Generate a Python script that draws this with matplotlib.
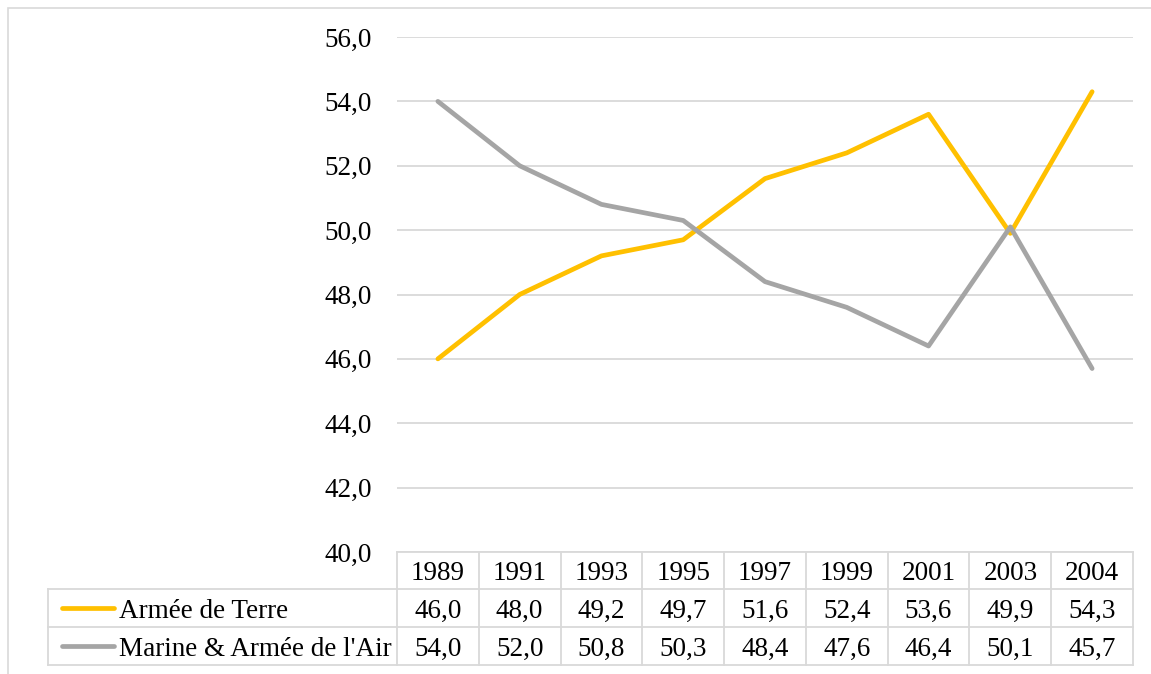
import numpy as np
import matplotlib
matplotlib.use("Agg")
import matplotlib.pyplot as plt
from matplotlib.lines import Line2D
from matplotlib.patches import Rectangle

plt.rcParams["font.family"] = ["Liberation Serif", "DejaVu Serif"]

years = ["1989", "1991", "1993", "1995", "1997", "1999", "2001", "2003", "2004"]
terre = [46.0, 48.0, 49.2, 49.7, 51.6, 52.4, 53.6, 49.9, 54.3]
marine_air = [54.0, 52.0, 50.8, 50.3, 48.4, 47.6, 46.4, 50.1, 45.7]
series = [("Armée de Terre", terre, "#FFC000"),
          ("Marine & Armée de l'Air", marine_air, "#A5A5A5")]

W, H = 1151, 674
GRID = "#D9D9D9"
FS = 19.5

fig = plt.figure(figsize=(W / 100, H / 100), dpi=100)
# outer chart border
fig.add_artist(Rectangle((8 / W, -0.1), 1.2, (H - 8) / H + 0.1, transform=fig.transFigure,
                         fill=False, edgecolor=GRID, lw=1.2))

L, R, T, B = 397, 1133, 37, 552
ax = fig.add_axes([L / W, (H - B) / H, (R - L) / W, (B - T) / H])
x = np.arange(len(years))
for name, vals, col in series:
    ax.plot(x, vals, color=col, lw=3.4, solid_capstyle="round", zorder=3)

ax.set_xlim(-0.5, len(years) - 0.5)
ax.set_ylim(40, 56)
ax.set_yticks(np.arange(40, 57, 2))
ax.set_yticklabels([f"{v:.1f}".replace(".", ",") for v in np.arange(40, 57, 2)], fontsize=FS)
ax.tick_params(axis="y", length=0, pad=18)
ax.set_xticks([])
ax.grid(axis="y", color=GRID, lw=1.3)
ax.set_axisbelow(True)
for s in ax.spines.values():
    s.set_visible(False)

# data table below the plot
px = 1.0 / (B - T)          # one pixel in axes-y units
rows_y = [0, -37 * px, -75 * px, -113 * px]
col_w = (R - L) / len(years)
left_x = -0.5 - (L - 48) / col_w
tr = ax.get_xaxis_transform()
kw = dict(transform=tr, color=GRID, lw=1.3, clip_on=False)
# horizontal lines
ax.add_line(Line2D([-0.5, len(years) - 0.5], [rows_y[0]] * 2, **kw))
for yv in rows_y[1:]:
    ax.add_line(Line2D([left_x, len(years) - 0.5], [yv] * 2, **kw))
# vertical lines
for xv in np.arange(-0.5, len(years), 1.0):
    ax.add_line(Line2D([xv, xv], [rows_y[0], rows_y[3]], **kw))
ax.add_line(Line2D([left_x, left_x], [rows_y[1], rows_y[3]], **kw))

ymid = [(rows_y[i] + rows_y[i + 1]) / 2 for i in range(3)]
for i, yr in enumerate(years):
    ax.text(i, ymid[0], yr, transform=tr, ha="center", va="center_baseline", fontsize=FS)
for r, (name, vals, col) in enumerate(series, start=1):
    for i, v in enumerate(vals):
        ax.text(i, ymid[r], f"{v:.1f}".replace(".", ","), transform=tr,
                ha="center", va="center_baseline", fontsize=FS)
    x0 = left_x + 14 / col_w
    x1 = left_x + 66 / col_w
    ax.add_line(Line2D([x0, x1], [ymid[r]] * 2, transform=tr, color=col, lw=3.4,
                       solid_capstyle="round", clip_on=False))
    ax.text(left_x + 71 / col_w, ymid[r], name, transform=tr, ha="left",
            va="center_baseline", fontsize=FS)

fig.savefig("out.png", dpi=100)
